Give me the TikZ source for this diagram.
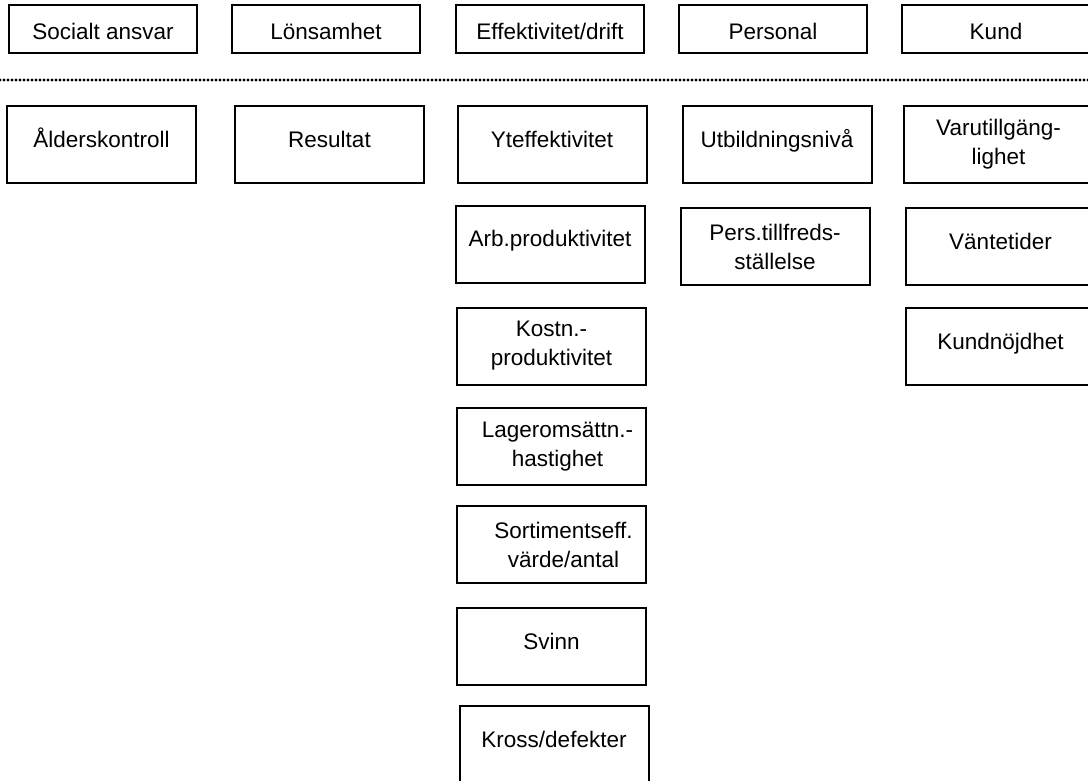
\documentclass[tikz,border=0pt]{standalone}
\usepackage{fontspec}
\setmainfont{Liberation Sans}
\usepackage{tikz}

\begin{document}
\begin{tikzpicture}[x=1pt,y=-1pt,
	every node/.style={font=\fontsize{22.5}{29}\selectfont},
	head/.style={draw=black,line width=2pt,minimum width=188,minimum height=48,inner sep=0pt,text height=21pt,text depth=0pt},
	kpi/.style={draw=black,line width=2pt,minimum width=189,minimum height=77,inner sep=0pt,text height=16pt,text depth=11pt},
	kpitwo/.style={draw=black,line width=2pt,minimum width=189,minimum height=77,inner sep=0pt,align=center}]
	\useasboundingbox (0,0) rectangle (1088,780);
	\clip (0,0) rectangle (1088,780);

	\node [head] (social) at (103, 29) {Socialt ansvar};
	\node [head] (lonsam) at (326, 29) {Lönsamhet};
	\node [head] (effekt) at (550, 29) {Effektivitet/drift};
	\node [head] (person) at (773, 29) {Personal};
	\node [head] (kund) at (996, 29) {Kund};

	\coordinate (lineleft) at (0, 80);
	\coordinate (lineright) at (1088, 80);
	\draw[line width=3.2pt,line cap=round,dash pattern=on 0pt off 4pt] (lineleft) -- (lineright);

	\node [kpi] (alder) at (101.5, 144.5) {Ålderskontroll};
	\node [kpi] (result) at (329.5, 144.5) {Resultat};
	\node [kpi] (ytef) at (552, 144.5) {Yteffektivitet};
	\node [kpi] (utbild) at (777, 144.5) {Utbildningsnivå};
	\node [kpitwo] (varu) at (998.5, 144.5) {Varutillgäng-\\lighet};

	\node [kpi] (arbprod) at (550, 244) {Arb.produktivitet};
	\node [kpitwo] (perstill) at (775, 246.5) {Pers.tillfreds-\\ställelse};
	\node [kpi] (vante) at (1000.5, 246.5) {Väntetider};

	\node [kpitwo] (kostprod) at (551.5, 346) {Kostn.-\\produktivitet};
	\node [kpi] (kundnojd) at (1000.5, 346.5) {Kundnöjdhet};

	\node [kpitwo] (lager) at (551.5, 446.5) {\hspace*{12pt}Lageromsättn.-\\\hspace*{12pt}hastighet};
	\node [kpitwo] (sortiment) at (551.5, 544.5) {\hspace*{24pt}Sortimentseff.\\\hspace*{24pt}värde/antal};
	\node [kpi] (svinn) at (551.5, 646.5) {Svinn};
	\node [kpi] (kross) at (554, 744.5) {Kross/defekter};
\end{tikzpicture}
\end{document}
